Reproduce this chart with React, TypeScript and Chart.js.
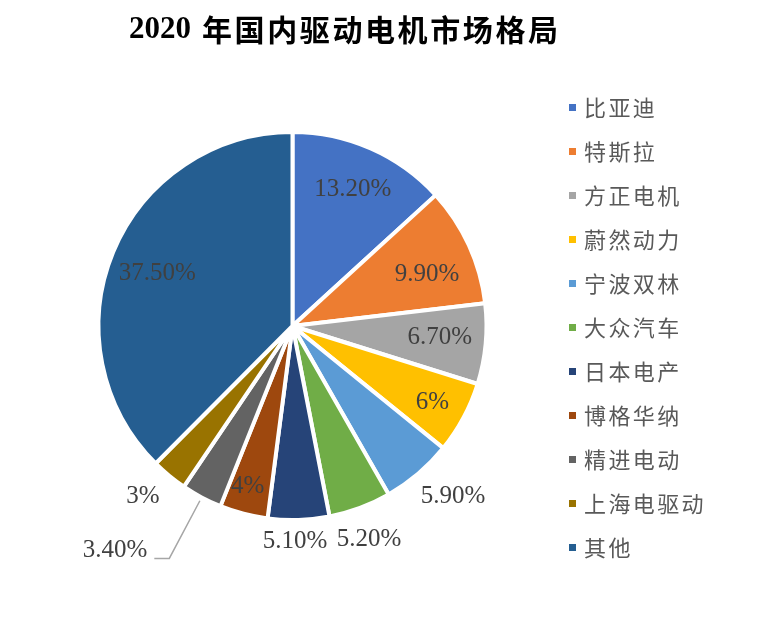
import React, { useEffect, useRef } from "react";
import { Chart, registerables } from "chart.js";
Chart.register(...registerables);

const TITLE_NUM = "2020";
const TITLE_TEXT = "年国内驱动电机市场格局";
const companies = ["比亚迪", "特斯拉", "方正电机", "蔚然动力", "宁波双林", "大众汽车", "日本电产", "博格华纳", "精进电动", "上海电驱动", "其他"];
const shares = [13.2, 9.9, 6.7, 6, 5.9, 5.2, 5.1, 4, 3.4, 3, 37.5];
const shareLabels = ["13.20%", "9.90%", "6.70%", "6%", "5.90%", "5.20%", "5.10%", "4%", "3.40%", "3%", "37.50%"];
const colors = ["#4472C4", "#ED7D31", "#A5A5A5", "#FFC000", "#5B9BD5", "#70AD47", "#264478", "#9E480E", "#636363", "#997300", "#255E91"];

// label placement style: radius factor and angle offset (deg) relative to slice middle
const labelPlacement: any[] = [
  { r: 0.78, da: 0 },
  { r: 0.75, da: 3.6 },
  { r: 0.77, da: -0.9 },
  { r: 0.83, da: 0.4 },
  { r: 1.22, da: -2.9 },
  { r: 1.18, da: 0.6 },
  { r: 1.12, da: 1.1 },
  { r: 0.87, da: 1 },
  { leader: true, r0: 1.03, r1: 1.37, run: 15 },
  { r: 1.18, da: 1.9 },
  { r: 0.755, da: -1.3 },
];

const labelPlugin = {
  id: "sliceLabels",
  afterDatasetsDraw(chart: any) {
    const ctx = chart.ctx;
    const meta = chart.getDatasetMeta(0);
    ctx.save();
    ctx.font = '25px "Liberation Serif", "Times New Roman", serif';
    ctx.fillStyle = "#404040";
    ctx.textBaseline = "middle";
    meta.data.forEach((arc: any, i: number) => {
      const p = arc.getProps(["x", "y", "startAngle", "endAngle", "outerRadius"], true);
      const R = p.outerRadius - 2;
      const mid = (p.startAngle + p.endAngle) / 2;
      const pl = labelPlacement[i];
      const text = shareLabels[i];
      if (pl.leader) {
        const sx = p.x + Math.cos(mid) * R * pl.r0;
        const sy = p.y + Math.sin(mid) * R * pl.r0;
        const ex = p.x + Math.cos(mid) * R * pl.r1;
        const ey = p.y + Math.sin(mid) * R * pl.r1;
        ctx.strokeStyle = "#A6A6A6";
        ctx.lineWidth = 1.5;
        ctx.beginPath();
        ctx.moveTo(sx, sy);
        ctx.lineTo(ex, ey);
        ctx.lineTo(ex - pl.run, ey);
        ctx.stroke();
        ctx.textAlign = "right";
        ctx.fillText(text, ex - pl.run - 7, ey - 8);
      } else {
        const a = mid + (pl.da * Math.PI) / 180;
        const x = p.x + Math.cos(a) * R * pl.r;
        const y = p.y + Math.sin(a) * R * pl.r;
        ctx.textAlign = "center";
        ctx.fillText(text, x, y);
      }
    });
    ctx.restore();
  },
};

const legendPlugin = {
  id: "sideLegend",
  afterDraw(chart: any) {
    const ctx = chart.ctx;
    const labels = chart.data.labels;
    const bg = chart.data.datasets[0].backgroundColor;
    ctx.save();
    ctx.font = '22px "Noto Sans CJK SC", sans-serif';
    (ctx as any).letterSpacing = "2.4px";
    ctx.textBaseline = "middle";
    ctx.textAlign = "left";
    labels.forEach((lab: string, i: number) => {
      const y = 107 + i * 44;
      ctx.fillStyle = bg[i];
      ctx.fillRect(569, y - 3, 7, 7);
      ctx.fillStyle = "#595959";
      ctx.fillText(lab, 584, y + 1);
    });
    ctx.restore();
  },
};

const titlePlugin = {
  id: "customTitle",
  afterDraw(chart: any) {
    const ctx = chart.ctx;
    ctx.save();
    ctx.fillStyle = "#000000";
    ctx.textBaseline = "middle";
    ctx.textAlign = "left";
    ctx.font = 'bold 31px "Liberation Serif", "Times New Roman", serif';
    ctx.fillText(TITLE_NUM, 129, 30);
    ctx.font = 'bold 30px "Noto Sans CJK SC", sans-serif';
    (ctx as any).letterSpacing = "2.6px";
    ctx.fillText(TITLE_TEXT, 202, 30);
    ctx.restore();
  },
};

export default function App() {
  const ref = useRef<HTMLCanvasElement | null>(null);
  useEffect(() => {
    if (!ref.current) return;
    const chart = new Chart(ref.current, {
      type: "pie",
      data: {
        labels: companies,
        datasets: [
          {
            data: shares,
            backgroundColor: colors,
            borderColor: "#FFFFFF",
            borderWidth: 4,
            radius: 194,
          } as any,
        ],
      },
      options: {
        responsive: false,
        devicePixelRatio: 1,
        animation: false,
        layout: { padding: { left: 100, right: 275, top: 133, bottom: 98 } },
        plugins: {
          legend: { display: false },
          title: { display: false },
          tooltip: { enabled: false },
        },
      },
      plugins: [labelPlugin, legendPlugin, titlePlugin],
    });
    return () => chart.destroy();
  }, []);
  return (
    <div style={{ position: "fixed", left: 0, top: 0, width: 760, height: 617, background: "#fff" }}>
      <canvas ref={ref} width={760} height={617} />
    </div>
  );
}
